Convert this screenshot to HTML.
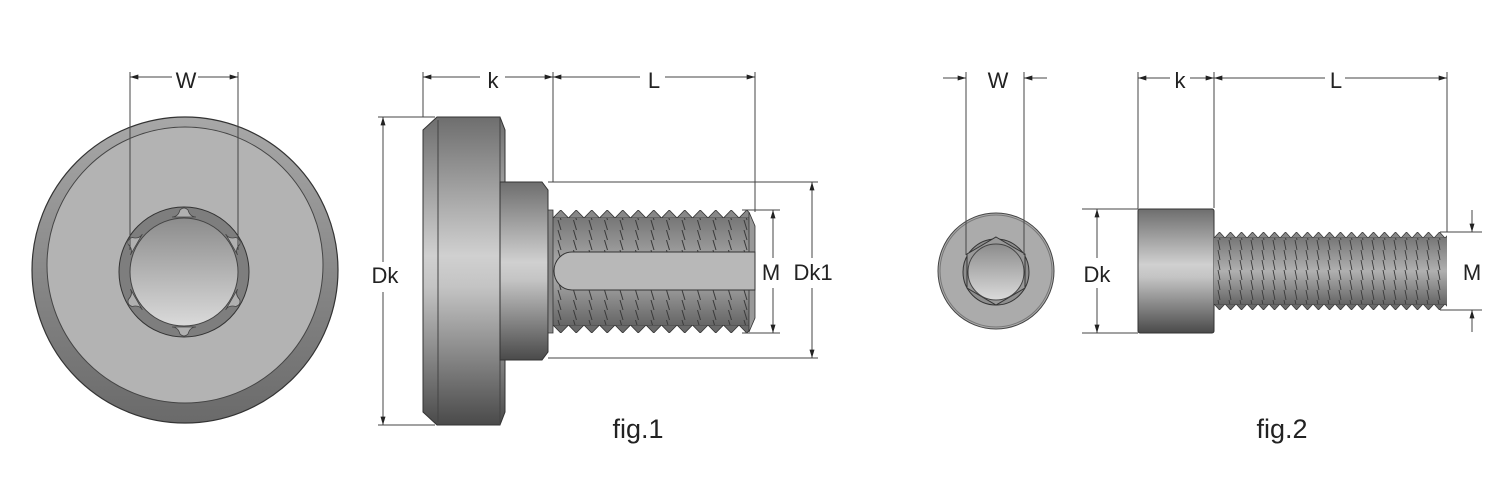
<!DOCTYPE html>
<html><head><meta charset="utf-8"><style>
html,body{margin:0;padding:0;background:#fff}
svg{display:block}
text{font-family:"Liberation Sans",sans-serif;fill:#222}
</style></head><body>
<svg width="1500" height="500" viewBox="0 0 1500 500" xmlns="http://www.w3.org/2000/svg">
<defs>
<linearGradient id="cyl" x1="0" y1="0" x2="0" y2="1">
<stop offset="0" stop-color="#6e6e6e"/><stop offset="0.45" stop-color="#d0d0d0"/><stop offset="0.55" stop-color="#c4c4c4"/><stop offset="1" stop-color="#4a4a4a"/></linearGradient>
<linearGradient id="thr" x1="0" y1="0" x2="0" y2="1">
<stop offset="0" stop-color="#777"/><stop offset="0.5" stop-color="#b0b0b0"/><stop offset="1" stop-color="#666"/></linearGradient>
<linearGradient id="rim" x1="0" y1="0" x2="0" y2="1">
<stop offset="0" stop-color="#a8a8a8"/><stop offset="1" stop-color="#6a6a6a"/></linearGradient>
<linearGradient id="cone" x1="0" y1="0" x2="0" y2="1">
<stop offset="0" stop-color="#8c8c8c"/><stop offset="1" stop-color="#dadada"/></linearGradient>
<pattern id="st1" x="553" y="0" width="15.5" height="10" patternUnits="userSpaceOnUse">
<line x1="5" y1="0" x2="8" y2="10" stroke="#3a3a3a" stroke-width="1"/></pattern>
<pattern id="tt1" x="553" y="210" width="15.5" height="8" patternUnits="userSpaceOnUse">
<polygon points="0,8 7.75,0 15.5,8" fill="#888" stroke="#333" stroke-width="0.8"/></pattern>
<pattern id="tb1" x="553" y="325" width="15.5" height="8" patternUnits="userSpaceOnUse">
<polygon points="0,0 7.75,8 15.5,0" fill="#6a6a6a" stroke="#333" stroke-width="0.8"/></pattern>
<pattern id="st2" x="1214" y="0" width="11" height="10" patternUnits="userSpaceOnUse">
<line x1="4" y1="0" x2="6" y2="10" stroke="#3a3a3a" stroke-width="0.9"/></pattern>
<pattern id="tt2" x="1214" y="232" width="11" height="6" patternUnits="userSpaceOnUse">
<polygon points="0,6 5.5,0 11,6" fill="#888" stroke="#333" stroke-width="0.7"/></pattern>
<pattern id="tb2" x="1214" y="304" width="11" height="6" patternUnits="userSpaceOnUse">
<polygon points="0,0 5.5,6 11,0" fill="#6a6a6a" stroke="#333" stroke-width="0.7"/></pattern>
<marker id="ar" viewBox="0 0 10 6" refX="10" refY="3" markerWidth="12" markerHeight="5" orient="auto-start-reverse" markerUnits="userSpaceOnUse"><path d="M0,0 L10,3 L0,6z" fill="#222"/></marker>
</defs>

<!-- FIG1 front view -->
<circle cx="185" cy="270" r="153" fill="url(#rim)" stroke="#333" stroke-width="1.2"/>
<circle cx="185" cy="265" r="138" fill="#b3b3b3" stroke="#444" stroke-width="1"/>
<circle cx="184" cy="272" r="65" fill="#7e7e7e" stroke="#333" stroke-width="1"/>
<g fill="#b0b0b0" stroke="#444" stroke-width="0.8">
<g transform="translate(184,272)">
<path id="lobe" d="M-12,-55 Q-6,-55 -4,-62 Q0,-66 4,-62 Q6,-55 12,-55 Z"/>
<use href="#lobe" transform="rotate(60)"/><use href="#lobe" transform="rotate(120)"/>
<use href="#lobe" transform="rotate(180)"/><use href="#lobe" transform="rotate(240)"/><use href="#lobe" transform="rotate(300)"/>
</g></g>
<circle cx="184" cy="272" r="54" fill="url(#cone)" stroke="#444" stroke-width="1"/>

<!-- W dim fig1 -->
<g stroke="#444" stroke-width="1" fill="none">
<line x1="130" y1="72" x2="130" y2="250"/><line x1="238" y1="72" x2="238" y2="250"/>
<line x1="130" y1="77" x2="172" y2="77" marker-start="url(#ar)"/><line x1="198" y1="77" x2="238" y2="77" marker-end="url(#ar)"/>
</g>
<text x="186" y="88" font-size="22" text-anchor="middle">W</text>

<!-- FIG1 side view -->
<polygon points="437,117 500,117 505,130 505,412 500,425 437,425 423,412 423,130" fill="url(#cyl)" stroke="#333" stroke-width="1"/>
<line x1="438" y1="120" x2="438" y2="422" stroke="#444"/>
<line x1="500" y1="117" x2="500" y2="425" stroke="#444"/>
<polygon points="500,182 542,182 548,190 548,352 542,360 500,360" fill="url(#cyl)" stroke="#333" stroke-width="1"/>
<rect x="553" y="218" width="196" height="107" fill="url(#thr)"/>
<rect x="553" y="218" width="196" height="107" fill="url(#st1)"/>
<rect x="553" y="210" width="196" height="8" fill="url(#tt1)"/>
<rect x="553" y="325" width="196" height="8" fill="url(#tb1)"/>
<polygon points="548,210 553,210 553,333 548,333" fill="#888" stroke="#333" stroke-width="0.8"/>
<polygon points="749,212 755,226 755,318 749,332" fill="#999" stroke="#333" stroke-width="0.8"/>
<path d="M755,252 L572,252 A18,19 0 0 0 572,290 L755,290 Z" fill="#b8b8b8" stroke="#333" stroke-width="1"/>

<g stroke="#444" stroke-width="1" fill="none">
<line x1="423" y1="72" x2="423" y2="117"/><line x1="553" y1="72" x2="553" y2="182"/><line x1="755" y1="72" x2="755" y2="212"/>
<line x1="423" y1="77" x2="480" y2="77" marker-start="url(#ar)"/><line x1="505" y1="77" x2="553" y2="77" marker-end="url(#ar)"/>
<line x1="553" y1="77" x2="640" y2="77" marker-start="url(#ar)"/><line x1="665" y1="77" x2="755" y2="77" marker-end="url(#ar)"/>
<line x1="378" y1="117" x2="435" y2="117"/><line x1="378" y1="425" x2="435" y2="425"/>
<line x1="383" y1="117" x2="383" y2="262" marker-start="url(#ar)"/><line x1="383" y1="292" x2="383" y2="425" marker-end="url(#ar)"/>
<line x1="548" y1="182" x2="818" y2="182"/><line x1="548" y1="358" x2="818" y2="358"/>
<line x1="812" y1="182" x2="812" y2="258" marker-start="url(#ar)"/><line x1="812" y1="288" x2="812" y2="358" marker-end="url(#ar)"/>
<line x1="742" y1="210" x2="780" y2="210"/><line x1="742" y1="333" x2="780" y2="333"/>
<line x1="773" y1="210" x2="773" y2="258" marker-start="url(#ar)"/><line x1="773" y1="288" x2="773" y2="333" marker-end="url(#ar)"/>
</g>
<text x="493" y="88" font-size="22" text-anchor="middle">k</text>
<text x="654" y="88" font-size="22" text-anchor="middle">L</text>
<text x="385" y="283" font-size="22" text-anchor="middle">Dk</text>
<text x="771" y="280" font-size="22" text-anchor="middle">M</text>
<text x="813" y="280" font-size="22" text-anchor="middle">Dk1</text>
<text x="638" y="438" font-size="27" text-anchor="middle">fig.1</text>

<!-- FIG2 front view -->
<circle cx="996" cy="271" r="58" fill="#ababab" stroke="#444" stroke-width="1"/>
<circle cx="996" cy="271" r="56" fill="none" stroke="#777" stroke-width="1"/>
<circle cx="996" cy="272" r="33" fill="#8e8e8e" stroke="#333" stroke-width="1"/>
<polygon points="996,237 1025,254 1025,288 996,305 967,288 967,254" fill="#999" stroke="#333" stroke-width="1"/>
<circle cx="996" cy="272" r="28" fill="url(#cone)" stroke="#444" stroke-width="1"/>
<g stroke="#444" stroke-width="1" fill="none">
<line x1="966" y1="72" x2="966" y2="255"/><line x1="1024" y1="72" x2="1024" y2="255"/>
<line x1="943" y1="78" x2="966" y2="78" marker-end="url(#ar)"/><line x1="1047" y1="78" x2="1024" y2="78" marker-end="url(#ar)"/>
</g>
<text x="998" y="88" font-size="22" text-anchor="middle">W</text>

<!-- FIG2 side view -->
<rect x="1138" y="209" width="76" height="124" rx="2" fill="url(#cyl)" stroke="#333" stroke-width="1"/>
<rect x="1214" y="238" width="233" height="66" fill="url(#thr)"/>
<rect x="1214" y="238" width="233" height="66" fill="url(#st2)"/>
<rect x="1214" y="232" width="233" height="6" fill="url(#tt2)"/>
<rect x="1214" y="304" width="233" height="6" fill="url(#tb2)"/>
<g stroke="#444" stroke-width="1" fill="none">
<line x1="1138" y1="72" x2="1138" y2="209"/><line x1="1214" y1="72" x2="1214" y2="208"/><line x1="1447" y1="72" x2="1447" y2="232"/>
<line x1="1138" y1="78" x2="1170" y2="78" marker-start="url(#ar)"/><line x1="1190" y1="78" x2="1214" y2="78" marker-end="url(#ar)"/>
<line x1="1214" y1="78" x2="1325" y2="78" marker-start="url(#ar)"/><line x1="1345" y1="78" x2="1447" y2="78" marker-end="url(#ar)"/>
<line x1="1082" y1="209" x2="1138" y2="209"/><line x1="1082" y1="333" x2="1138" y2="333"/>
<line x1="1097" y1="209" x2="1097" y2="258" marker-start="url(#ar)"/><line x1="1097" y1="288" x2="1097" y2="333" marker-end="url(#ar)"/>
<line x1="1440" y1="232" x2="1482" y2="232"/><line x1="1440" y1="310" x2="1482" y2="310"/>
<line x1="1472" y1="210" x2="1472" y2="232" marker-end="url(#ar)"/><line x1="1472" y1="332" x2="1472" y2="310" marker-end="url(#ar)"/>
</g>
<text x="1180" y="88" font-size="22" text-anchor="middle">k</text>
<text x="1336" y="88" font-size="22" text-anchor="middle">L</text>
<text x="1097" y="282" font-size="22" text-anchor="middle">Dk</text>
<text x="1472" y="280" font-size="22" text-anchor="middle">M</text>
<text x="1282" y="438" font-size="27" text-anchor="middle">fig.2</text>
</svg>
</body></html>
